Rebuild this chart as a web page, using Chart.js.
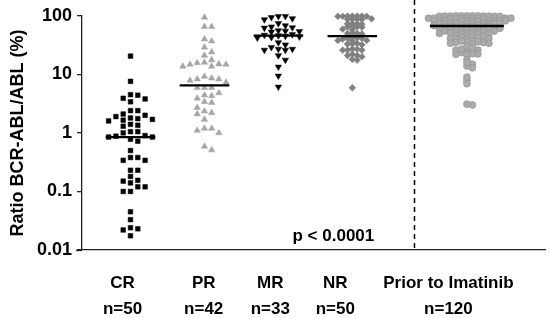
<!DOCTYPE html>
<html><head><meta charset="utf-8">
<script src="https://cdn.jsdelivr.net/npm/chart.js@4.4.1/dist/chart.umd.min.js"></script>
<style>html,body{margin:0;padding:0;background:#fff}#wrap{width:550px;height:318px;position:relative}</style>
</head><body><div id="wrap"><canvas id="c" width="550" height="318"></canvas></div>
<script>
// ---- data ----
const categories = ["CR", "PR", "MR", "NR", "Prior to Imatinib"];
const counts = ["n=50", "n=42", "n=33", "n=50", "n=120"];
const crValues = [20.5, 7.6, 4.4, 3.9, 3.4, 3.8, 4.5, 2.4, 2.1, 1.9, 2.0, 2.4, 1.65, 1.6, 1.75, 1.8, 1.7,
  1.3, 1.35, 1.4, 1.05, 1.0, 1.05, 0.88, 0.85, 0.9, 0.85, 0.78, 0.72, 0.5, 0.38, 0.34, 0.34, 0.38,
  0.23, 0.23, 0.18, 0.15, 0.14, 0.155, 0.12, 0.12, 0.10, 0.10, 0.045, 0.033, 0.024, 0.022, 0.023, 0.0175];
const prValues = [94, 65, 65, 40, 37, 29, 24, 21, 17.6, 15.7, 16, 15, 14.8, 13.7, 13.7, 14.8, 8.6, 8.3, 7.9,
  8.3, 9.2, 7.3, 5.9, 5.9, 5.9, 4.4, 4.3, 4.8, 3.9, 3.3, 3.4, 2.7, 2.2, 2.35, 2.1, 1.7, 1.19, 1.1, 1.0,
  1.19, 0.51, 0.59];
const mrValues = [90, 86, 98, 98, 94, 65, 62, 74, 68, 63, 55, 54, 53, 56, 48, 45, 46, 47, 43, 42, 44,
  32, 35, 27, 26, 29, 26, 27, 21, 17.6, 13.4, 9.4, 6.1];
const nrValues = [99, 98, 99, 98, 99, 98, 99, 88, 87, 89, 88, 87, 73, 74, 72, 73, 65, 64, 66, 65, 59, 58,
  50, 49, 51, 50, 42, 41, 42, 40, 41, 38, 37, 38, 33, 34, 32, 33, 27, 26, 27, 26, 26, 21, 20, 21, 22,
  18, 17.5, 5.9];
const priorValues = [
  100, 99, 100, 98, 99, 100, 98, 99, 100, 99, 98, 100,
  91, 90, 91, 89, 90, 91, 90, 89, 91, 90, 90,
  82, 81, 83, 82, 81, 82, 83, 81, 82, 82, 81,
  74, 75, 73, 74, 75, 74, 73, 74, 75, 74,
  67, 68, 66, 67, 68, 67, 66, 67, 68, 67,
  61, 60, 61, 60, 61, 60, 61, 60, 61,
  55, 54, 55, 56, 55, 54, 55, 56,
  50, 49, 50, 51, 50, 49, 50,
  45, 44, 45, 46, 45,
  41, 40, 41, 42, 41,
  37, 36, 35, 37, 34, 36, 35, 33, 34, 27, 26, 23.6, 26, 27, 24, 25, 22.3, 22, 21.5, 22.5, 17.7,
  14.9, 12.9, 13.9, 15.9, 7.9, 6.9, 9.0, 3.0, 3.1, 30, 28];
const medians = [0.85, 6.5, 46, 45, 67];
const yTickValues = [0.01, 0.1, 1, 10, 100];
const pValueText = "p < 0.0001";

// ---- layout / style (not data) ----
const groups = [crValues, prValues, mrValues, nrValues, priorValues];
const groupX = [1, 2, 3, 4, 5.55];
const labelX = [0.893, 1.99, 2.89, 3.77, 5.30];
const medianHalf = [0.335, 0.335, 0.335, 0.335, 0.5];
const dividerX = 4.84;
const styles = [
  {ps: 'rect', r: 3.3, c: '#000000', b: '#000000', bw: 0.5, rot: 0, col: 7.3, dy: 6},
  {ps: 'triangle', r: 3.7, c: '#a6a6a6', b: '#a6a6a6', bw: 0.5, rot: 0, col: 7.2, dy: 6},
  {ps: 'triangle', r: 3.7, c: '#000000', b: '#000000', bw: 0.5, rot: 180, col: 7, dy: 5},
  {ps: 'rectRot', r: 3.4, c: '#808080', b: '#808080', bw: 0.5, rot: 0, col: 4.8, dy: 2.9},
  {ps: 'circle', r: 3.4, c: '#ababab', b: '#939393', bw: 0.7, rot: 0, col: 5.5, dy: 2.5}
];

Chart.defaults.font.family = "'Liberation Sans', Arial, Helvetica, sans-serif";
Chart.defaults.font.weight = 'bold';
Chart.defaults.color = '#000';

const datasets = [];
groups.forEach((vals, g) => {
  const s = styles[g];
  datasets.push({
    type: 'scatter', label: categories[g],
    data: vals.map(v => ({x: groupX[g], y: v})),
    pointStyle: s.ps, pointRadius: s.r, pointRotation: s.rot,
    backgroundColor: s.c, borderColor: s.b, borderWidth: s.bw,
    clip: false, order: 2
  });
});
medians.forEach((m, g) => {
  datasets.push({
    type: 'line', label: 'median ' + categories[g],
    data: [{x: groupX[g] - medianHalf[g], y: m}, {x: groupX[g] + medianHalf[g], y: m}],
    borderColor: '#000', borderWidth: 2.3, pointRadius: 0, clip: false, order: 1
  });
});

const extras = {
  id: 'extras',
  afterDraw(chart) {
    const {ctx, scales: {x, y}, chartArea} = chart;
    ctx.save();
    const dx = Math.round(x.getPixelForValue(dividerX)) + 0.5;
    ctx.strokeStyle = '#000';
    ctx.lineWidth = 1.5;
    ctx.setLineDash([5, 4]);
    ctx.beginPath();
    ctx.moveTo(dx, 0);
    ctx.lineTo(dx, chartArea.bottom);
    ctx.stroke();
    ctx.setLineDash([]);
    ctx.strokeStyle = '#222';
    ctx.lineWidth = 1.3;
    ctx.beginPath();
    ctx.moveTo(chartArea.left - 6, chartArea.bottom + 0.5);
    ctx.lineTo(chartArea.left, chartArea.bottom + 0.5);
    ctx.stroke();
    ctx.fillStyle = '#000';
    ctx.font = "bold 17px 'Liberation Sans', Arial, sans-serif";
    ctx.textAlign = 'center';
    ctx.textBaseline = 'middle';
    ctx.fillText(pValueText, x.getPixelForValue(3.744), y.getPixelForValue(0.0168));
    ctx.restore();
  }
};

const chart = new Chart(document.getElementById('c'), {
  data: {datasets},
  options: {
    responsive: false, animation: false, maintainAspectRatio: false,
    layout: {padding: {top: 7, left: 0, right: 0, bottom: 0}},
    plugins: {legend: {display: false}, tooltip: {enabled: false}},
    scales: {
      x: {
        type: 'linear', min: 0.344, max: 6.61,
        grid: {display: false, drawTicks: false},
        border: {display: true, color: '#222', width: 1.3},
        afterBuildTicks: sc => { sc.ticks = labelX.map(v => ({value: v})); },
        afterFit: sc => { sc.height = 68; },
        ticks: {
          autoSkip: false, maxRotation: 0, padding: 20,
          font: {size: 17, weight: 'bold', lineHeight: 1.53},
          callback: (v, i) => [categories[i], counts[i]]
        }
      },
      y: {
        type: 'logarithmic', min: 0.01, max: 100,
        grid: {drawOnChartArea: false, drawTicks: true, tickLength: 5, color: '#222', lineWidth: 1.3},
        border: {display: true, color: '#222', width: 1.3},
        afterBuildTicks: sc => { sc.ticks = yTickValues.map(v => ({value: v})); },
        afterFit: sc => { sc.width = 82; },
        ticks: {
          padding: 5, font: {size: 18, weight: 'bold'},
          callback: v => String(v)
        },
        title: {display: true, text: 'Ratio BCR-ABL/ABL (%)', font: {size: 18, weight: 'bold'}, padding: {top: 7, bottom: 0}}
      }
    }
  },
  plugins: [extras]
});

// Prism-style column spreading computed from the values and the scales
function spread(vals, s) {
  const ys = vals.map(v => chart.scales.y.getPixelForValue(v));
  const order = ys.map((_, i) => i).sort((a, b) => ys[a] - ys[b]);
  const offs = new Array(vals.length).fill(0);
  const placed = [];
  for (const i of order) {
    for (let k = 0; k < 60; k++) {
      const col = k === 0 ? 0 : (k % 2 ? (k + 1) / 2 : -k / 2);
      if (!placed.some(p => p.c === col && Math.abs(p.y - ys[i]) < s.dy)) {
        placed.push({c: col, y: ys[i]}); offs[i] = col * s.col; break;
      }
    }
  }
  return offs;
}
const pxPerUnit = chart.scales.x.getPixelForValue(1) - chart.scales.x.getPixelForValue(0);
groups.forEach((vals, g) => {
  const offs = spread(vals, styles[g]);
  chart.data.datasets[g].data = vals.map((v, i) => ({x: groupX[g] + offs[i] / pxPerUnit, y: v}));
});
chart.update('none');
</script>
</body></html>
